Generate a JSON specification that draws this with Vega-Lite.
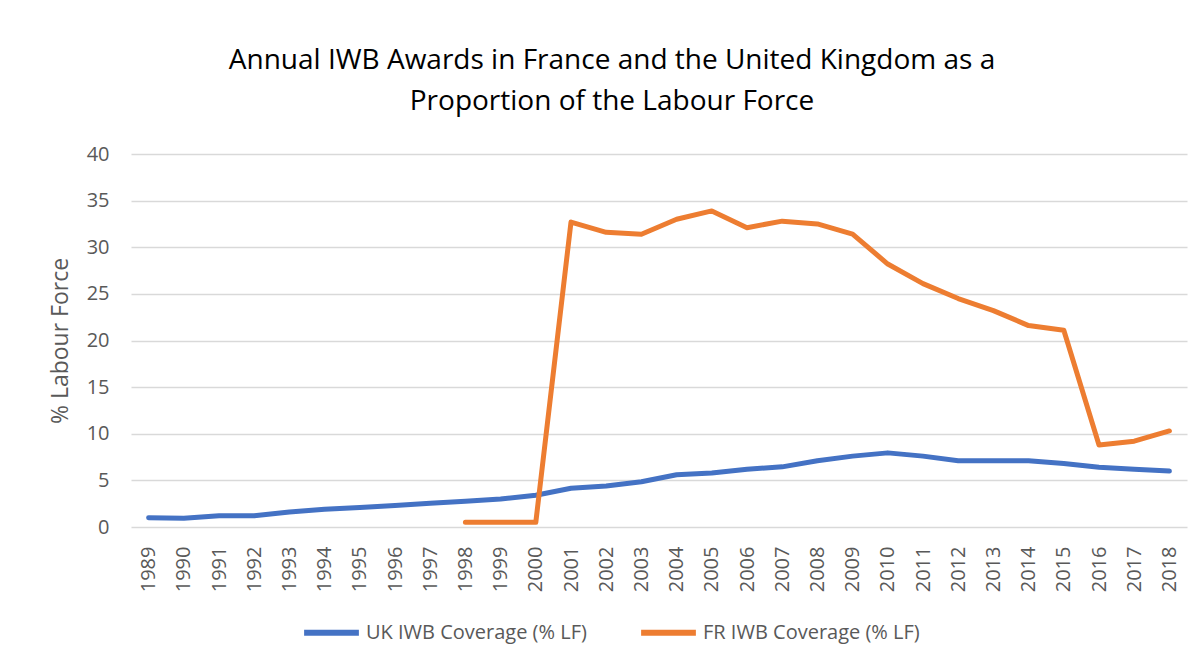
{
  "$schema": "https://vega.github.io/schema/vega-lite/v6.json",
  "width": 1056,
  "height": 373,
  "autosize": {"type": "none"},
  "padding": {"left": 131, "top": 154, "right": 13, "bottom": 135},
  "background": "white",
  "title": {
    "text": ["Annual IWB Awards in France and the United Kingdom as a", "Proportion  of the Labour Force"],
    "font": "Open Sans",
    "fontSize": 28,
    "fontWeight": "normal",
    "color": "#000000",
    "lineHeight": 41,
    "anchor": "middle",
    "frame": "group",
    "dx": -47,
    "offset": 28
  },
  "data": {
    "values": [
      {"year": "1989", "series": "UK IWB Coverage (% LF)", "value": 1.0},
      {"year": "1990", "series": "UK IWB Coverage (% LF)", "value": 0.95},
      {"year": "1991", "series": "UK IWB Coverage (% LF)", "value": 1.2},
      {"year": "1992", "series": "UK IWB Coverage (% LF)", "value": 1.2},
      {"year": "1993", "series": "UK IWB Coverage (% LF)", "value": 1.6},
      {"year": "1994", "series": "UK IWB Coverage (% LF)", "value": 1.9},
      {"year": "1995", "series": "UK IWB Coverage (% LF)", "value": 2.1},
      {"year": "1996", "series": "UK IWB Coverage (% LF)", "value": 2.3},
      {"year": "1997", "series": "UK IWB Coverage (% LF)", "value": 2.55},
      {"year": "1998", "series": "UK IWB Coverage (% LF)", "value": 2.75},
      {"year": "1999", "series": "UK IWB Coverage (% LF)", "value": 3.0},
      {"year": "2000", "series": "UK IWB Coverage (% LF)", "value": 3.4},
      {"year": "2001", "series": "UK IWB Coverage (% LF)", "value": 4.15},
      {"year": "2002", "series": "UK IWB Coverage (% LF)", "value": 4.4},
      {"year": "2003", "series": "UK IWB Coverage (% LF)", "value": 4.85},
      {"year": "2004", "series": "UK IWB Coverage (% LF)", "value": 5.6},
      {"year": "2005", "series": "UK IWB Coverage (% LF)", "value": 5.8},
      {"year": "2006", "series": "UK IWB Coverage (% LF)", "value": 6.2},
      {"year": "2007", "series": "UK IWB Coverage (% LF)", "value": 6.45},
      {"year": "2008", "series": "UK IWB Coverage (% LF)", "value": 7.1},
      {"year": "2009", "series": "UK IWB Coverage (% LF)", "value": 7.6},
      {"year": "2010", "series": "UK IWB Coverage (% LF)", "value": 7.95},
      {"year": "2011", "series": "UK IWB Coverage (% LF)", "value": 7.6},
      {"year": "2012", "series": "UK IWB Coverage (% LF)", "value": 7.1},
      {"year": "2013", "series": "UK IWB Coverage (% LF)", "value": 7.1},
      {"year": "2014", "series": "UK IWB Coverage (% LF)", "value": 7.1},
      {"year": "2015", "series": "UK IWB Coverage (% LF)", "value": 6.8},
      {"year": "2016", "series": "UK IWB Coverage (% LF)", "value": 6.4},
      {"year": "2017", "series": "UK IWB Coverage (% LF)", "value": 6.2},
      {"year": "2018", "series": "UK IWB Coverage (% LF)", "value": 6.0},
      {"year": "1998", "series": "FR IWB Coverage (% LF)", "value": 0.5},
      {"year": "1999", "series": "FR IWB Coverage (% LF)", "value": 0.5},
      {"year": "2000", "series": "FR IWB Coverage (% LF)", "value": 0.5},
      {"year": "2001", "series": "FR IWB Coverage (% LF)", "value": 32.7},
      {"year": "2002", "series": "FR IWB Coverage (% LF)", "value": 31.6},
      {"year": "2003", "series": "FR IWB Coverage (% LF)", "value": 31.4},
      {"year": "2004", "series": "FR IWB Coverage (% LF)", "value": 33.0},
      {"year": "2005", "series": "FR IWB Coverage (% LF)", "value": 33.9},
      {"year": "2006", "series": "FR IWB Coverage (% LF)", "value": 32.1},
      {"year": "2007", "series": "FR IWB Coverage (% LF)", "value": 32.8},
      {"year": "2008", "series": "FR IWB Coverage (% LF)", "value": 32.5},
      {"year": "2009", "series": "FR IWB Coverage (% LF)", "value": 31.4},
      {"year": "2010", "series": "FR IWB Coverage (% LF)", "value": 28.2},
      {"year": "2011", "series": "FR IWB Coverage (% LF)", "value": 26.1},
      {"year": "2012", "series": "FR IWB Coverage (% LF)", "value": 24.5},
      {"year": "2013", "series": "FR IWB Coverage (% LF)", "value": 23.2},
      {"year": "2014", "series": "FR IWB Coverage (% LF)", "value": 21.6},
      {"year": "2015", "series": "FR IWB Coverage (% LF)", "value": 21.1},
      {"year": "2016", "series": "FR IWB Coverage (% LF)", "value": 8.8},
      {"year": "2017", "series": "FR IWB Coverage (% LF)", "value": 9.2},
      {"year": "2018", "series": "FR IWB Coverage (% LF)", "value": 10.3}
    ]
  },
  "mark": {"type": "line", "strokeWidth": 5, "strokeCap": "round", "strokeJoin": "round"},
  "encoding": {
    "x": {
      "field": "year",
      "type": "ordinal",
      "scale": {"type": "point", "padding": 0.5},
      "axis": {
        "title": null,
        "labelAngle": -90,
        "labelFont": "Open Sans",
        "labelFontSize": 20,
        "labelColor": "#595959",
        "labelPadding": 19,
        "ticks": false,
        "domain": false,
        "grid": false
      }
    },
    "y": {
      "field": "value",
      "type": "quantitative",
      "scale": {"domain": [0, 40], "nice": false},
      "axis": {
        "title": "% Labour Force",
        "titleFont": "Open Sans",
        "titleFontSize": 23,
        "titleFontWeight": "normal",
        "titleColor": "#595959",
        "titlePadding": 14,
        "values": [0, 5, 10, 15, 20, 25, 30, 35, 40],
        "labelFont": "Open Sans",
        "labelFontSize": 20,
        "labelColor": "#595959",
        "labelPadding": 22,
        "ticks": false,
        "domain": false,
        "grid": true,
        "gridColor": "#D9D9D9",
        "gridWidth": 1.5
      }
    },
    "color": {
      "field": "series",
      "type": "nominal",
      "scale": {
        "domain": ["UK IWB Coverage (% LF)", "FR IWB Coverage (% LF)"],
        "range": ["#4472C4", "#ED7D31"]
      },
      "legend": {
        "title": null,
        "orient": "none",
        "direction": "horizontal",
        "legendX": 170,
        "legendY": 448,
        "symbolType": "stroke",
        "symbolSize": 3000,
        "symbolStrokeWidth": 6,
        "labelFont": "Open Sans",
        "labelFontSize": 20,
        "labelColor": "#595959",
        "labelLimit": 400,
        "labelOffset": 4,
        "columnPadding": 42
      }
    }
  },
  "config": {"view": {"stroke": null}}
}
